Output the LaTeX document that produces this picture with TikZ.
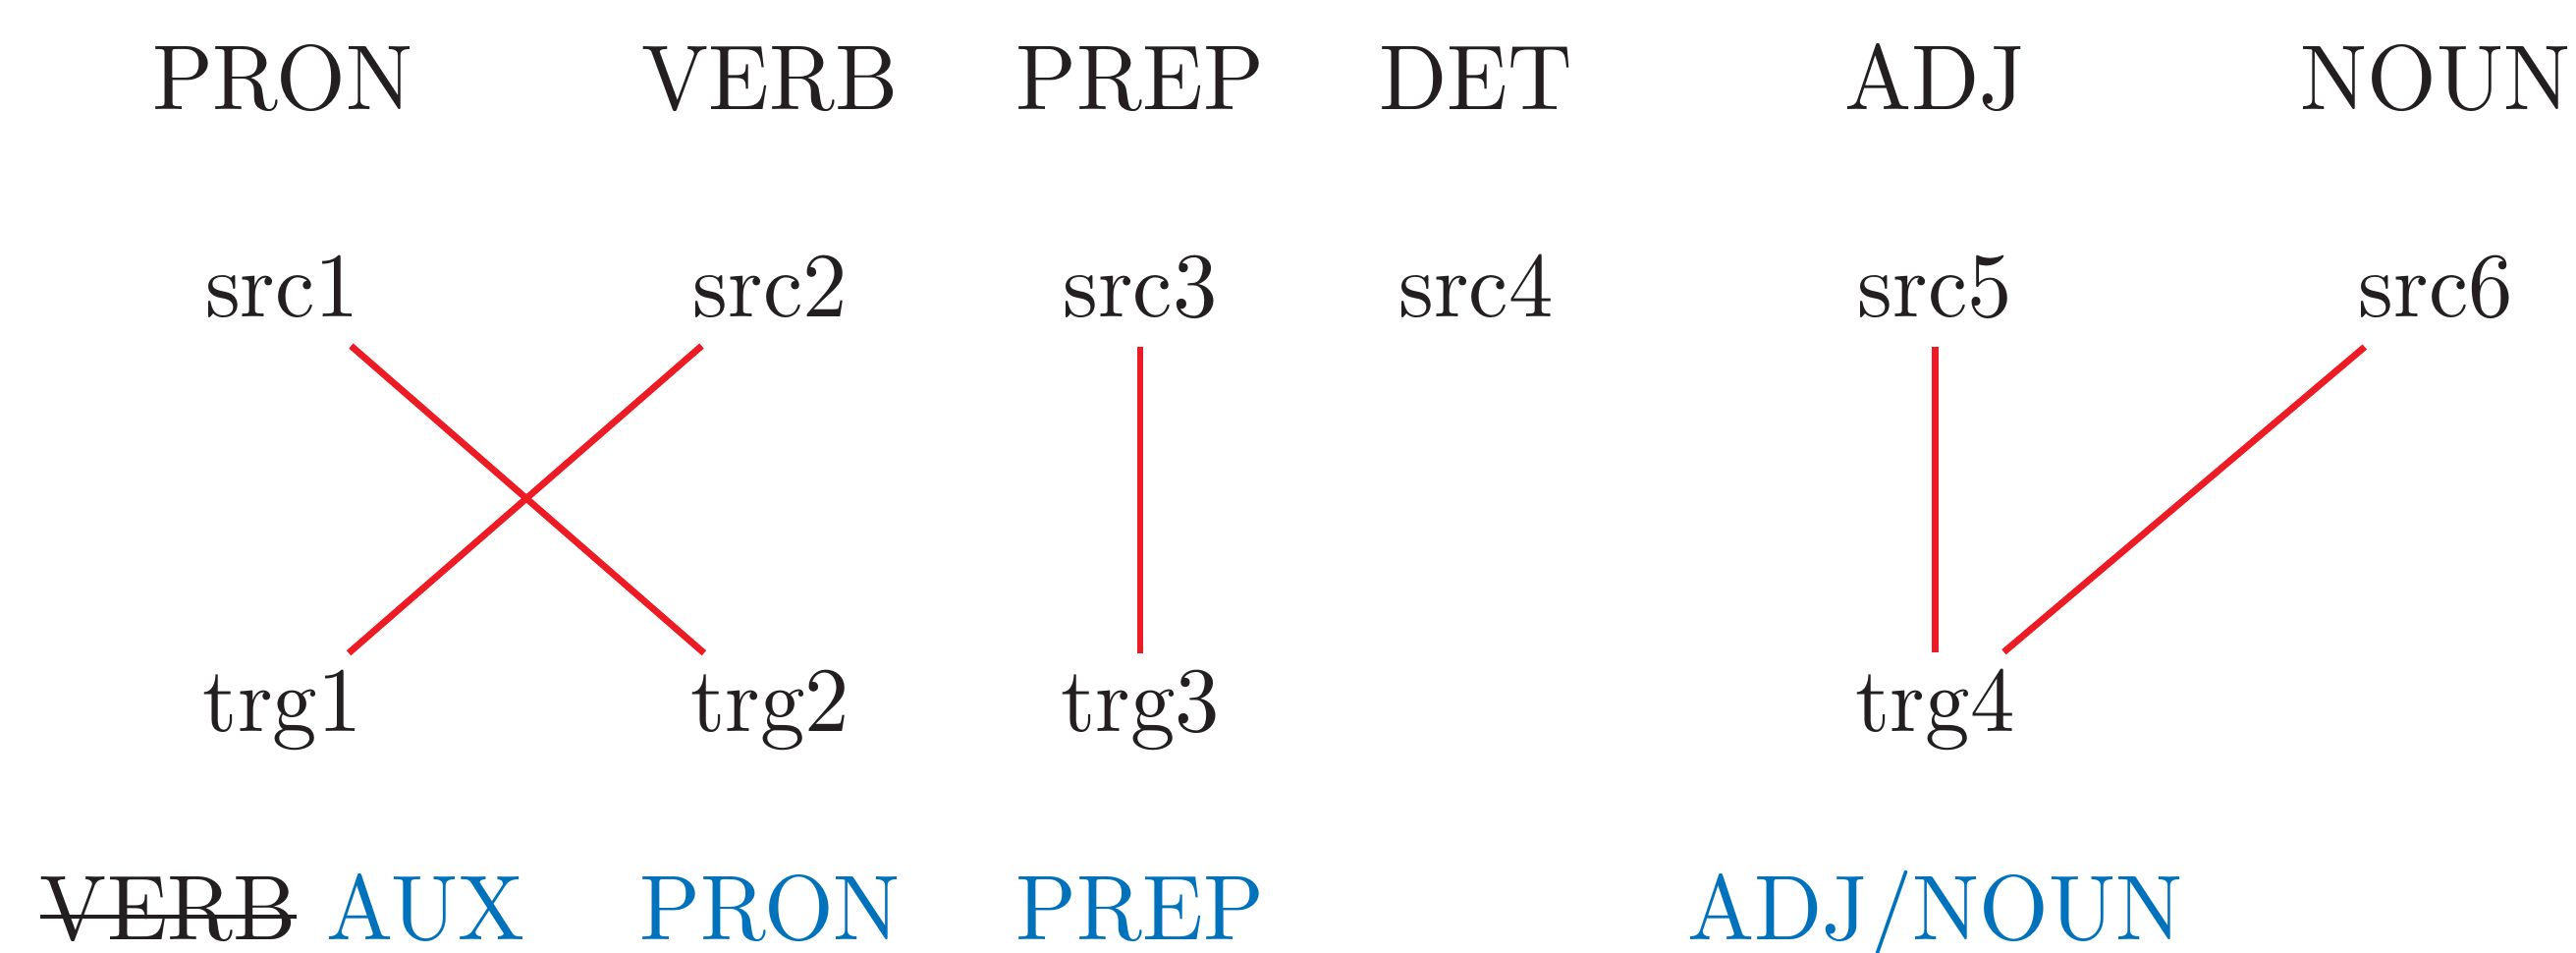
\documentclass[tikz,border=0pt]{standalone}
\usepackage{xcolor}
\definecolor{inkblack}{HTML}{231F20}
\definecolor{linkred}{HTML}{ED1C24}
\definecolor{tagblue}{HTML}{0072BC}
% text with a horizontal rule struck through it
\newcommand{\struckout}[1]{\setbox0\hbox{#1}\rlap{\rule[2.29pt]{\wd0}{0.4pt}}\box0\relax}
\begin{document}
\begin{tikzpicture}[x=1pt,y=1pt,
  every node/.style={text=inkblack, anchor=base, inner sep=0pt, outer sep=0pt, xscale=0.97},
  src/.style={inner ysep=3.1pt, inner xsep=3.33pt},
  trg/.style={inner ysep=1.9pt, inner xsep=3.33pt},
  tag/.style={text=tagblue},
  link/.style={draw=linkred, line width=0.72pt}]
\useasboundingbox (0,0) rectangle (279.94,-103.52);

% part-of-speech tags of the source sentence
\node (p1) at (30.7,-11.95)  {PRON};
\node (p2) at (83.7,-11.95)  {VERB};
\node (p3) at (123.9,-11.95) {PREP};
\node (p4) at (160.4,-11.95) {DET};
\node (p5) at (210.3,-11.95) {ADJ};
\node (p6) at (264.7,-11.95) {NOUN};

% source tokens
\node[src] (src1) at (30.7,-34.37)  {src1};
\node[src] (src2) at (83.7,-34.37)  {src2};
\node[src] (src3) at (123.9,-34.37) {src3};
\node[src] (src4) at (160.4,-34.37) {src4};
\node[src] (src5) at (210.3,-34.37) {src5};
\node[src] (src6) at (264.7,-34.37) {src6};

% target tokens
\node[trg] (trg1) at (30.7,-79.5)  {trg1};
\node[trg] (trg2) at (83.7,-79.5)  {trg2};
\node[trg] (trg3) at (123.9,-79.5) {trg3};
\node[trg] (trg4) at (210.3,-79.5) {trg4};

% word alignments
\draw[link] (src1) -- (trg2);
\draw[link] (src2) -- (trg1);
\draw[link] (src3) -- (trg3);
\draw[link] (src5) -- (trg4);
\draw[link] (src6) -- (trg4);

% projected target tags
\node (t1) at (30.7,-102.03)  {\struckout{VERB} \textcolor{tagblue}{AUX}};
\node[tag] (t2) at (83.7,-102.03)  {PRON};
\node[tag] (t3) at (123.9,-102.03) {PREP};
\node[tag] (t4) at (210.3,-102.03) {ADJ/NOUN};
\end{tikzpicture}
\end{document}
